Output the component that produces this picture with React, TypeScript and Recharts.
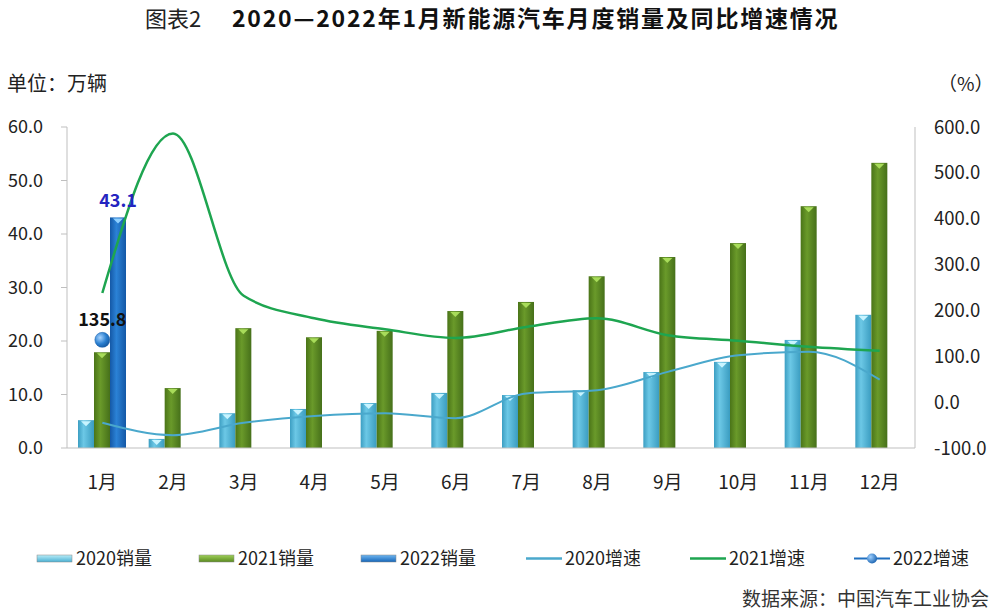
import {
  ComposedChart,
  Bar,
  Line,
  XAxis,
  YAxis,
  Legend,
  LabelList,
} from "recharts";

// categories and values
const months = ["1月", "2月", "3月", "4月", "5月", "6月", "7月", "8月", "9月", "10月", "11月", "12月"];
const sales2020 = [5.2, 1.7, 6.5, 7.3, 8.4, 10.3, 9.9, 10.8, 14.2, 16.1, 20.2, 24.9];
const sales2021 = [17.9, 11.2, 22.4, 20.7, 21.9, 25.6, 27.3, 32.1, 35.7, 38.3, 45.2, 53.3];
const sales2022: (number | null)[] = [43.1, null, null, null, null, null, null, null, null, null, null, null];
const growth2020 = [-45, -72, -45, -30, -24, -35, 19, 26, 66, 102, 110, 49];
const growth2021 = [238, 586, 232, 183, 159, 140, 164, 183, 146, 134, 121, 112];
const growth2022: (number | null)[] = [135.8, null, null, null, null, null, null, null, null, null, null, null];

const leftTicks = [0, 10, 20, 30, 40, 50, 60];
const rightTicks = [-100, 0, 100, 200, 300, 400, 500, 600];

const data = months.map((m, i) => ({
  month: m,
  s2020: sales2020[i],
  s2021: sales2021[i],
  s2022: sales2022[i],
  g2020: growth2020[i],
  g2021: growth2021[i],
  g2022: growth2022[i],
}));

const FONT = '"Noto Sans CJK SC", "Noto Sans", sans-serif';

// bar with a small lighter triangle on its top, like the Excel 3D look
const makeBarShape = (grad: string, cap: string) => (props: any) => {
  const { x, y, width, height } = props;
  if (height == null || height <= 0) return <g />;
  const cx = x + width / 2;
  return (
    <g>
      <rect x={x} y={y} width={width} height={height} fill={`url(#${grad})`} />
      <polygon points={`${x + 3},${y + 1} ${x + width - 3},${y + 1} ${cx},${y + 6}`} fill={cap} />
    </g>
  );
};

const BallDot = (props: any) => {
  const { cx, cy, value } = props;
  if (value == null || cx == null || cy == null) return <g />;
  return <circle cx={cx} cy={cy} r={7.5} fill="url(#ball)" stroke="#1b5fa8" strokeWidth={0.5} />;
};

const legendItems = [
  { kind: "bar", grad: "g20", label: "2020销量", x: 37 },
  { kind: "bar", grad: "g21", label: "2021销量", x: 199 },
  { kind: "bar", grad: "g22", label: "2022销量", x: 361 },
  { kind: "line", color: "#4aa8cc", label: "2020增速", x: 526 },
  { kind: "line", color: "#1ea550", label: "2021增速", x: 690 },
  { kind: "dot", color: "#1f6fc0", label: "2022增速", x: 854 },
];

const CustomLegend = () => (
  <svg width={994} height={28} style={{ display: "block" }}>
    {legendItems.map((it) => (
      <g key={it.label}>
        {it.kind === "bar" && (
          <rect x={it.x} y={10} width={35} height={7} fill={`url(#l${it.grad})`} stroke="#888" strokeWidth={0.5} />
        )}
        {it.kind === "line" && <line x1={it.x} x2={it.x + 36} y1={13.5} y2={13.5} stroke={it.color} strokeWidth={2.5} />}
        {it.kind === "dot" && (
          <g>
            <line x1={it.x} x2={it.x + 36} y1={13.5} y2={13.5} stroke={it.color} strokeWidth={2} />
            <circle cx={it.x + 18} cy={13.5} r={5} fill="url(#lball)" />
          </g>
        )}
        <text x={it.x + 39} y={20} fontSize={18} fill="#222" fontFamily={FONT}>
          {it.label}
        </text>
      </g>
    ))}
    <defs>
      <linearGradient id="lg20" x1="0" y1="0" x2="0" y2="1">
        <stop offset="0" stopColor="#b8ecf8" />
        <stop offset="1" stopColor="#4ab0d2" />
      </linearGradient>
      <linearGradient id="lg21" x1="0" y1="0" x2="0" y2="1">
        <stop offset="0" stopColor="#9fd05a" />
        <stop offset="1" stopColor="#5a8a20" />
      </linearGradient>
      <linearGradient id="lg22" x1="0" y1="0" x2="0" y2="1">
        <stop offset="0" stopColor="#6fb6f0" />
        <stop offset="1" stopColor="#1565b8" />
      </linearGradient>
      <radialGradient id="lball" cx="0.35" cy="0.35" r="0.7">
        <stop offset="0" stopColor="#9fd0ff" />
        <stop offset="1" stopColor="#1a63b0" />
      </radialGradient>
    </defs>
  </svg>
);

const fmt = (v: number) => v.toFixed(1);

export default function App() {
  return (
    <div style={{ position: "absolute", left: 0, top: 0, width: 994, height: 616, background: "#fff", fontFamily: FONT, overflow: "hidden" }}>
      <div style={{ position: "absolute", left: 145, top: 1, fontSize: 22, color: "#222", whiteSpace: "nowrap" }}>图表2</div>
      <div style={{ position: "absolute", left: 232, top: 0, fontSize: 23, fontWeight: 700, letterSpacing: 1.8, color: "#111", whiteSpace: "nowrap" }}>
        2020—2022年1月新能源汽车月度销量及同比增速情况
      </div>
      <div style={{ position: "absolute", left: 7, top: 68, fontSize: 20, color: "#222" }}>单位：万辆</div>
      <div style={{ position: "absolute", left: 938, top: 69, fontSize: 19, color: "#222" }}>（%）</div>
      <div style={{ position: "absolute", right: 5, top: 586, fontSize: 19, lineHeight: "24px", color: "#333", whiteSpace: "nowrap" }}>
        数据来源：中国汽车工业协会
      </div>

      <ComposedChart
        width={994}
        height={616}
        data={data}
        margin={{ top: 127, right: 0, left: 0, bottom: 100 }}
        barGap={0}
        style={{ fontFamily: FONT }}
      >
        <defs>
          <linearGradient id="g20" x1="0" y1="0" x2="1" y2="0">
            <stop offset="0" stopColor="#3c9ec2" />
            <stop offset="0.35" stopColor="#6cc8e6" />
            <stop offset="1" stopColor="#3a9cc0" />
          </linearGradient>
          <linearGradient id="g21" x1="0" y1="0" x2="1" y2="0">
            <stop offset="0" stopColor="#4a7418" />
            <stop offset="0.4" stopColor="#6a9a2a" />
            <stop offset="1" stopColor="#46701a" />
          </linearGradient>
          <linearGradient id="g22" x1="0" y1="0" x2="1" y2="0">
            <stop offset="0" stopColor="#1458a6" />
            <stop offset="0.4" stopColor="#2b82d6" />
            <stop offset="1" stopColor="#1458a6" />
          </linearGradient>
          <radialGradient id="ball" cx="0.35" cy="0.35" r="0.7">
            <stop offset="0" stopColor="#a8d4ff" />
            <stop offset="0.6" stopColor="#2a7fd0" />
            <stop offset="1" stopColor="#165aa2" />
          </radialGradient>
        </defs>
        <XAxis
          dataKey="month"
          height={40}
          axisLine={{ stroke: "#bfbfbf" }}
          tickLine={false}
          tickMargin={22}
          tick={{ fontSize: 19, fill: "#222" }}
          interval={0}
        />
        <YAxis
          yAxisId="left"
          width={67}
          domain={[0, 60]}
          ticks={leftTicks}
          tickFormatter={fmt}
          axisLine={{ stroke: "#bfbfbf" }}
          tickLine={{ stroke: "#bfbfbf" }}
          tickSize={6}
          tickMargin={18}
          tick={{ fontSize: 18, fill: "#222" }}
          allowDataOverflow
        />
        <YAxis
          yAxisId="right"
          orientation="right"
          width={79}
          domain={[-100, 600]}
          ticks={rightTicks}
          tickFormatter={fmt}
          axisLine={{ stroke: "#bfbfbf" }}
          tickLine={false}
          tickMargin={13}
          tick={{ fontSize: 18.5, fill: "#222", textAnchor: "start" }}
          allowDataOverflow
        />
        <Legend verticalAlign="bottom" content={<CustomLegend />} wrapperStyle={{ top: 545, left: 0, width: 994, height: 28 }} />
        <Bar yAxisId="left" dataKey="s2020" name="2020销量" barSize={16} isAnimationActive={false} shape={makeBarShape("g20", "#c8f4ff")} />
        <Bar yAxisId="left" dataKey="s2021" name="2021销量" barSize={16} isAnimationActive={false} shape={makeBarShape("g21", "#a8dc5a")} />
        <Bar yAxisId="left" dataKey="s2022" name="2022销量" barSize={16} isAnimationActive={false} shape={makeBarShape("g22", "#8fd0ff")}>
          <LabelList dataKey="s2022" position="top" offset={10} fill="#2424c0" fontSize={18} fontWeight={700} formatter={(v: any) => (v == null ? "" : fmt(v))} />
        </Bar>
        <Line yAxisId="right" dataKey="g2020" name="2020增速" type="monotone" stroke="#4aa8cc" strokeWidth={2} dot={false} activeDot={false} isAnimationActive={false} />
        <Line yAxisId="right" dataKey="g2021" name="2021增速" type="monotone" stroke="#1ea550" strokeWidth={2.5} dot={false} activeDot={false} isAnimationActive={false} />
        <Line yAxisId="right" dataKey="g2022" name="2022增速" stroke="#1f6fc0" strokeWidth={2} dot={<BallDot />} activeDot={false} isAnimationActive={false}>
          <LabelList dataKey="g2022" position="top" offset={14} fill="#111" fontSize={18} fontWeight={700} formatter={(v: any) => (v == null ? "" : fmt(v))} />
        </Line>
      </ComposedChart>
    </div>
  );
}
